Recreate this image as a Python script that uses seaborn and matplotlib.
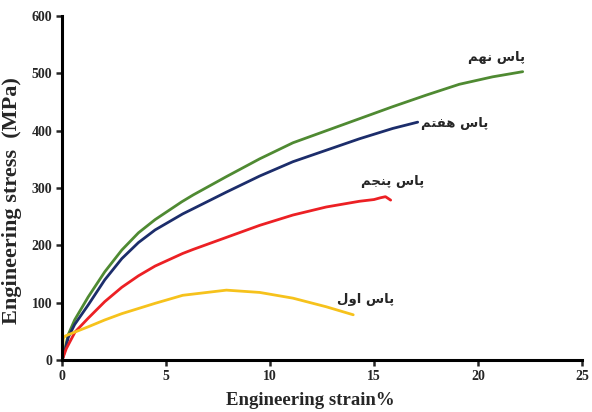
import numpy as np
import pandas as pd
import matplotlib
matplotlib.use("Agg")
import matplotlib.pyplot as plt
import seaborn as sns

# Stress-strain curves for successive passes (strain in %, stress in MPa)
strain_pass9 = [0, 0.3, 0.6, 1.25, 2.05, 2.87, 3.67, 4.47, 5.75, 6.3, 7.9, 9.5, 11.1, 12.7, 14.3, 15.9, 17.5, 19.1, 20.7, 22.15]
stress_pass9 = [0, 45, 70, 110, 154, 192, 222, 245, 276, 288, 320, 351, 379, 400, 421, 442, 462, 481, 494, 503]

strain_pass7 = [0, 0.3, 0.6, 1.25, 2.05, 2.87, 3.67, 4.47, 5.8, 6.3, 7.9, 9.5, 11.1, 12.7, 14.3, 15.9, 17.1]
stress_pass7 = [0, 40, 62, 96, 140, 177, 205, 227, 255, 264, 293, 321, 346, 366, 386, 404, 415]

strain_pass5 = [0, 0.2, 0.62, 1.25, 2.05, 2.87, 3.67, 4.47, 5.8, 6.3, 7.9, 9.5, 11.1, 12.7, 14.3, 15.0, 15.3, 15.55, 15.8]
stress_pass5 = [0, 20, 49, 73, 102, 127, 147, 164, 186, 193, 214, 235, 253, 267, 277, 280, 283, 285, 279]

strain_pass1 = [0, 0.05, 0.15, 0.62, 1.25, 2.05, 2.87, 3.67, 4.47, 5.8, 7.9, 9.5, 11.1, 12.7, 14.0]
stress_pass1 = [0, 38, 42, 49, 58, 70, 81, 90, 99, 113, 122, 118, 108, 93, 79]

# Persian labels, written in Arabic presentation forms in visual (left-to-right) order
label_pass9 = "\uFEE2\uFEEC\uFEE7 \uFEB1\uFE8E\uFB58"       # پاس نهم
label_pass7 = "\uFEE2\uFE98\uFED4\uFEEB \uFEB1\uFE8E\uFB58"  # پاس هفتم
label_pass5 = "\uFEE2\uFEA0\uFEE8\uFB58 \uFEB1\uFE8E\uFB58"  # پاس پنجم
label_pass1 = "\uFEDD\uFEED\uFE8D \uFEB1\uFE8E\uFB58"       # پاس اول

series = [
    ("pass9", strain_pass9, stress_pass9),
    ("pass7", strain_pass7, stress_pass7),
    ("pass5", strain_pass5, stress_pass5),
    ("pass1", strain_pass1, stress_pass1),
]
frames = [pd.DataFrame({"strain": x, "stress": y, "pass": name}) for name, x, y in series]
data = pd.concat(frames, ignore_index=True)

palette = {"pass9": "#4f8a32", "pass7": "#1c2d6b", "pass5": "#ec2024", "pass1": "#f6c21c"}

sns.set_style("ticks")
plt.rcParams["font.family"] = ["Liberation Serif", "DejaVu Sans"]

fig = plt.figure(figsize=(5.92, 4.12), dpi=100)
ax = fig.add_axes([0.105, 0.126, 0.878, 0.835])

sns.lineplot(data=data, x="strain", y="stress", hue="pass", palette=palette,
             linewidth=2.0, sort=False, estimator=None, legend=False, ax=ax)

ax.set_xlim(0, 25)
ax.set_ylim(0, 600)
ax.set_xticks([0, 5, 10, 15, 20, 25])
ax.set_yticks([0, 100, 200, 300, 400, 500, 600])
ax.tick_params(axis="both", direction="out", length=4, width=1.8, labelsize=10, pad=3)
for lab in ax.get_xticklabels() + ax.get_yticklabels():
    lab.set_fontweight("bold")

for side in ("top", "right"):
    ax.spines[side].set_visible(False)
for side in ("left", "bottom"):
    ax.spines[side].set_linewidth(2.2)
    ax.spines[side].set_color("black")

ax.set_xlabel("Engineering strain%", fontsize=13.5, fontweight="bold")
ax.xaxis.set_label_coords(0.477, -0.093)
ax.set_ylabel("Engineering stress  (MPa)", fontsize=16, fontweight="bold")
ax.yaxis.set_label_coords(-0.077, 0.465)

arabic_font = ["DejaVu Sans"]
label_style = dict(family=arabic_font, fontsize=9.5, fontweight="bold", ha="center", va="center")
ax.text(20.9, 527, label_pass9, **label_style)
ax.text(18.9, 413, label_pass7, **label_style)
ax.text(15.9, 311, label_pass5, **label_style)
ax.text(14.6, 106, label_pass1, **label_style)

fig.savefig("out.png", dpi=100)
